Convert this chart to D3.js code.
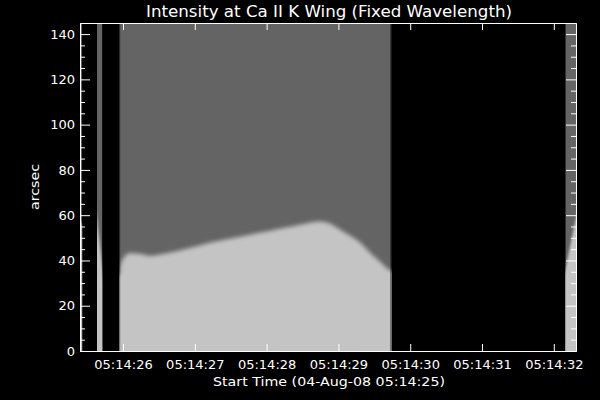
<!DOCTYPE html>
<html><head><meta charset="utf-8">
<script src="https://cdn.jsdelivr.net/npm/d3@7"></script>
<style>html,body{margin:0;padding:0;background:#000;} svg{display:block;}</style>
</head><body>
<svg id="chart" width="600" height="400"></svg>
<script>
// ---- text ----
const titleText = "Intensity at Ca II K Wing (Fixed Wavelength)";
const xLabelText = "Start Time (04-Aug-08 05:14:25)";
const yLabelText = "arcsec";

// ---- ticks ----
const xTickSeconds = [26, 27, 28, 29, 30, 31, 32];          // seconds after 05:14:00
const xTickLabels = ["05:14:26", "05:14:27", "05:14:28", "05:14:29", "05:14:30", "05:14:31", "05:14:32"];
const yMajorTicks = [0, 20, 40, 60, 80, 100, 120, 140];
const yMinorTicks = [5, 10, 15, 25, 30, 35, 45, 50, 55, 65, 70, 75, 85, 90, 95, 105, 110, 115, 125, 130, 135];

// ---- axis ranges ----
const xDomain = [25.401, 32.309];
const yDomain = [0, 144.9];

// ---- main exposure block: time (s after 05:14:00) vs bright/dark boundary (arcsec) ----
const mainTime = [25.947, 25.96, 25.996, 26.093, 26.25, 26.372, 26.55, 26.744, 27.0, 27.207, 27.45, 27.667, 27.9, 28.136, 28.4, 28.601, 28.743, 28.88, 29.021, 29.16, 29.30, 29.439, 29.578, 29.74];
const mainEdge = [33.5, 37.0, 40.5, 43.2, 42.8, 42.0, 42.8, 44.1, 46.0, 47.8, 49.4, 50.7, 52.2, 53.7, 55.3, 56.7, 57.2, 56.3, 53.7, 51.0, 47.9, 43.5, 39.5, 35.5];

// ---- narrow columns ----
const stripStart = [25.401, 25.638, 32.160];
const stripEnd = [25.432, 25.713, 32.309];
const stripEdgeStart = [58, 59, 36];
const stripEdgeEnd = [56, 37, 59];

const darkGray = "#646464";
const lightGray = "#c4c4c4";
const fontFamily = "'DejaVu Sans', sans-serif";

const svg = d3.select("#chart");
svg.append("rect").attr("width", 600).attr("height", 400).attr("fill", "#000");

const x = d3.scaleLinear().domain(xDomain).range([80, 576]);
const y = d3.scaleLinear().domain(yDomain).range([351, 23]);

const defs = svg.append("defs");
defs.append("clipPath").attr("id", "plotClip").append("rect")
  .attr("x", 80).attr("y", 23).attr("width", 496).attr("height", 328);
defs.append("filter").attr("id", "blurMain").attr("x", "-20%").attr("y", "-20%").attr("width", "140%").attr("height", "140%")
  .append("feGaussianBlur").attr("stdDeviation", 2.2);
defs.append("filter").attr("id", "blurStrip").attr("x", "-50%").attr("y", "-20%").attr("width", "200%").attr("height", "140%")
  .append("feGaussianBlur").attr("stdDeviation", 0.8);

const img = svg.append("g").attr("clip-path", "url(#plotClip)");

// main block
const mx0 = x(mainTime[0]), mx1 = x(mainTime[mainTime.length - 1]);
defs.append("clipPath").attr("id", "mainClip").append("rect")
  .attr("x", mx0).attr("y", y(yDomain[1])).attr("width", mx1 - mx0).attr("height", y(0) - y(yDomain[1]) + 1);
const mainG = img.append("g").attr("clip-path", "url(#mainClip)");
mainG.append("rect").attr("x", mx0).attr("y", y(yDomain[1]))
  .attr("width", mx1 - mx0).attr("height", y(0) - y(yDomain[1]) + 1).attr("fill", darkGray);
const mainData = mainTime.map((t, i) => ({t, v: mainEdge[i]}));
const mainArea = d3.area()
  .x(d => x(d.t)).y0(y(0) + 10).y1(d => y(d.v))
  .curve(d3.curveMonotoneX);
const extData = [{t: mainTime[0] - 0.1, v: mainEdge[0]}, ...mainData, {t: mainTime[mainTime.length - 1] + 0.1, v: mainEdge[mainEdge.length - 1]}];
mainG.append("path").attr("d", mainArea(extData)).attr("fill", lightGray).attr("filter", "url(#blurMain)");
// soft edges of the block
mainG.append("rect").attr("x", mx0).attr("y", y(yDomain[1])).attr("width", 1).attr("height", 330).attr("fill", "#000").attr("opacity", 0.5);
mainG.append("rect").attr("x", mx1 - 1.5).attr("y", y(yDomain[1])).attr("width", 1.5).attr("height", 330).attr("fill", "#000").attr("opacity", 0.4);

// strips
stripStart.forEach((s, i) => {
  const sx0 = x(s), sx1 = x(stripEnd[i]);
  const cid = "stripClip" + i;
  defs.append("clipPath").attr("id", cid).append("rect")
    .attr("x", sx0).attr("y", y(yDomain[1])).attr("width", sx1 - sx0).attr("height", 330);
  const g = img.append("g").attr("clip-path", `url(#${cid})`);
  g.append("rect").attr("x", sx0).attr("y", y(yDomain[1])).attr("width", sx1 - sx0).attr("height", 330).attr("fill", darkGray);
  const pts = [{t: s, v: stripEdgeStart[i]}, {t: stripEnd[i], v: stripEdgeEnd[i]}];
  const a = d3.area().x(d => x(d.t)).y0(y(0) + 10).y1(d => y(d.v));
  // extend slightly beyond edges keeping slope
  const slope = (stripEdgeEnd[i] - stripEdgeStart[i]) / (stripEnd[i] - s);
  const dt = 0.03;
  const ext = [{t: s - dt, v: stripEdgeStart[i] - slope * dt}, ...pts, {t: stripEnd[i] + dt, v: stripEdgeEnd[i] + slope * dt}];
  g.append("path").attr("d", a(ext)).attr("fill", lightGray).attr("filter", "url(#blurStrip)");
});

// ---- axes ----
const axisStyle = g => {
  g.selectAll("path.domain").attr("stroke", "#fff").attr("stroke-width", 1);
  g.selectAll(".tick line").attr("stroke", "#fff").attr("stroke-width", 1);
  g.selectAll(".tick text").attr("fill", "#fff").attr("font-family", fontFamily).attr("font-size", 13);
};

svg.append("g").attr("transform", "translate(0,351)")
  .call(d3.axisBottom(x).tickValues(xTickSeconds).tickFormat((d, i) => xTickLabels[i])
    .tickSizeInner(-7).tickSizeOuter(0).tickPadding(8.5))
  .call(axisStyle);
svg.append("g").attr("transform", "translate(0,23)")
  .call(d3.axisTop(x).tickValues(xTickSeconds).tickFormat("")
    .tickSizeInner(-7).tickSizeOuter(0))
  .call(axisStyle);

svg.append("g").attr("transform", "translate(80,0)")
  .call(d3.axisLeft(y).tickValues(yMajorTicks).tickFormat(d3.format("d"))
    .tickSizeInner(-10).tickSizeOuter(0).tickPadding(5))
  .call(axisStyle);
svg.append("g").attr("transform", "translate(80,0)")
  .call(d3.axisLeft(y).tickValues(yMinorTicks).tickFormat("")
    .tickSizeInner(-5).tickSizeOuter(0))
  .call(axisStyle);
svg.append("g").attr("transform", "translate(576,0)")
  .call(d3.axisRight(y).tickValues(yMajorTicks).tickFormat("")
    .tickSizeInner(-10).tickSizeOuter(0))
  .call(axisStyle);
svg.append("g").attr("transform", "translate(576,0)")
  .call(d3.axisRight(y).tickValues(yMinorTicks).tickFormat("")
    .tickSizeInner(-5).tickSizeOuter(0))
  .call(axisStyle);

// ---- labels ----
svg.append("text").attr("x", 329).attr("y", 16.5).attr("text-anchor", "middle")
  .attr("fill", "#fff").attr("font-family", fontFamily).attr("font-size", 16)
  .attr("textLength", 366).attr("lengthAdjust", "spacingAndGlyphs").text(titleText);
svg.append("text").attr("x", 329).attr("y", 385.5).attr("text-anchor", "middle")
  .attr("fill", "#fff").attr("font-family", fontFamily).attr("font-size", 13)
  .attr("textLength", 232).attr("lengthAdjust", "spacingAndGlyphs").text(xLabelText);
svg.append("text").attr("transform", "translate(39.3,187) rotate(-90)").attr("text-anchor", "middle")
  .attr("fill", "#fff").attr("font-family", fontFamily).attr("font-size", 13)
  .attr("textLength", 46).attr("lengthAdjust", "spacingAndGlyphs").text(yLabelText);
</script>
</body></html>
